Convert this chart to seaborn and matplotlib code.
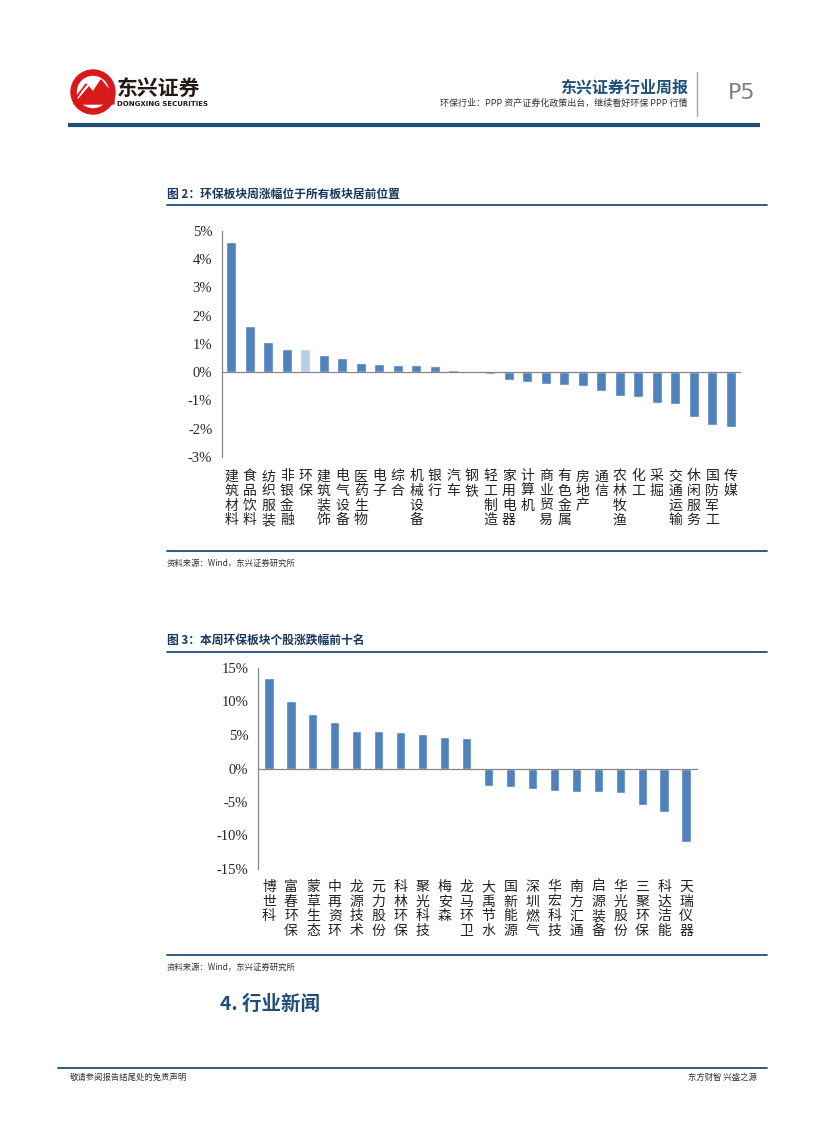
import numpy as np
import matplotlib
matplotlib.use("Agg")
import matplotlib.pyplot as plt
import seaborn as sns
from matplotlib.patches import Circle, Polygon
from matplotlib.ticker import FuncFormatter

# ------------------------------
# DATA
# ------------------------------

sectors = ["建筑材料", "食品饮料", "纺织服装", "非银金融", "环保", "建筑装饰", "电气设备",
           "医药生物", "电子", "综合", "机械设备", "银行", "汽车", "钢铁", "轻工制造",
           "家用电器", "计算机", "商业贸易", "有色金属", "房地产", "通信", "农林牧渔",
           "化工", "采掘", "交通运输", "休闲服务", "国防军工", "传媒"]
sector_change = [4.62, 1.65, 1.06, 0.82, 0.82, 0.61, 0.51, 0.33, 0.29, 0.25, 0.25, 0.21,
                 0.08, 0.0, -0.07, -0.26, -0.34, -0.40, -0.45, -0.48, -0.66, -0.84,
                 -0.87, -1.09, -1.13, -1.58, -1.88, -1.94]

stocks = ["博世科", "富春环保", "蒙草生态", "中再资环", "龙源技术", "元力股份", "科林环保",
          "聚光科技", "梅安森", "龙马环卫", "大禹节水", "国新能源", "深圳燃气", "华宏科技",
          "南方汇通", "启源装备", "华光股份", "三聚环保", "科达洁能", "天瑞仪器"]
stock_change = [13.5, 10.1, 8.2, 7.0, 5.65, 5.65, 5.45, 5.15, 4.7, 4.5,
                -2.57, -2.72, -3.02, -3.42, -3.51, -3.51, -3.66, -5.5, -6.53, -11.0]

sector_ticks = [5, 4, 3, 2, 1, 0, -1, -2, -3]
stock_ticks = [15, 10, 5, 0, -5, -10, -15]

# ------------------------------
# STYLE
# ------------------------------

sns.set_style("white")
plt.rcParams["font.family"] = ["Noto Sans CJK SC", "DejaVu Sans"]

BAR = "#4F81BD"
LIGHT = "#B9CDE5"
AXIS = "#868686"
NAVY = "#1F4E79"
TITLE = "#17375E"
SERIF = ["Liberation Serif", "Noto Sans CJK SC"]

fig = plt.figure(figsize=(8.27, 11.22), dpi=100)

# page layer in pixel coordinates
page = fig.add_axes([0, 0, 1, 1])
page.set_xlim(0, 827)
page.set_ylim(1122, 0)
page.axis("off")


def bar_chart(ax, names, values, colors, ticks, width):
    sns.barplot(x=names, y=values, hue=names, palette=colors, legend=False,
                width=width, ax=ax, saturation=1)
    n = len(names)
    ax.set_xlim(-0.5, n - 0.5)
    ax.set_ylim(min(ticks), max(ticks))
    ax.set_yticks(ticks)
    ax.yaxis.set_major_formatter(FuncFormatter(lambda v, p: f"{v:.0f}%"))
    for lab in ax.get_yticklabels():
        lab.set_fontfamily(SERIF)
        lab.set_fontsize(10.5)
    ax.set_xticks(np.arange(-0.5, n, 1))
    ax.set_xticklabels([])
    ax.tick_params(axis="x", direction="out", length=4, color=AXIS, width=0.8)
    ax.tick_params(axis="y", direction="out", length=4, color=AXIS, width=0.8, pad=3)
    ax.spines["top"].set_visible(False)
    ax.spines["right"].set_visible(False)
    ax.spines["bottom"].set_position(("data", 0))
    for s in ("left", "bottom"):
        ax.spines[s].set_color(AXIS)
        ax.spines[s].set_linewidth(0.9)
    ax.set_xlabel("")
    ax.set_ylabel("")
    for i, name in enumerate(names):
        ax.text(i, -0.055, "\n".join(name), transform=ax.get_xaxis_transform(),
                ha="center", va="top", fontsize=10, linespacing=1.05, color="#222222")


# ------------------------------
# CHART 1: SECTORS
# ------------------------------

ax1 = fig.add_axes([222 / 827, 1 - 457 / 1122, 518 / 827, 226 / 1122])
colors1 = [LIGHT if s == "环保" else BAR for s in sectors]
bar_chart(ax1, sectors, sector_change, colors1, sector_ticks, 0.55)

# ------------------------------
# CHART 2: STOCKS
# ------------------------------

ax2 = fig.add_axes([258 / 827, 1 - 869 / 1122, 439 / 827, 201 / 1122])
bar_chart(ax2, stocks, stock_change, [BAR] * len(stocks), stock_ticks, 0.42)

# ------------------------------
# PAGE ELEMENTS
# ------------------------------

# header logo
page.add_patch(Circle((93, 92), 22, color="#D7191C"))
page.add_patch(Circle((93, 92), 15.5, color="white"))
page.add_patch(Polygon([(74, 100), (86, 84), (93, 92), (101, 80), (114, 96), (114, 104), (74, 104)],
                       closed=True, color="#D7191C"))
for k in range(3):
    page.plot([78 + k * 2, 88 + k * 2], [98 - k * 3, 86 - k * 3], color="white", lw=1)
page.text(117, 88, "东兴证券", fontsize=15, fontweight="bold", color="#231815", va="center")
page.text(117, 104, "DONGXING SECURITIES", fontsize=5, fontweight="bold", color="#231815",
          va="center", family=["DejaVu Sans"])

page.text(688, 87, "东兴证券行业周报", fontsize=11.5, fontweight="bold", color=NAVY,
          ha="right", va="center")
page.text(688, 103, "环保行业：PPP 资产证券化政策出台，继续看好环保 PPP 行情", fontsize=6.5,
          color="#333333", ha="right", va="center")
page.plot([697, 697], [72, 116], color="#A6A6A6", lw=1)
page.text(742, 93, "P5", fontsize=16, color="#7F7F7F", ha="center", va="center",
          family=["DejaVu Sans"])
page.plot([68, 760], [124.5, 124.5], color=NAVY, lw=3, solid_capstyle="butt")

# chart 1 title and source
page.text(167, 194, "图 2：环保板块周涨幅位于所有板块居前位置", fontsize=8.5, fontweight="bold",
          color=TITLE, va="center")
page.plot([167, 767], [205, 205], color=NAVY, lw=1.3)
page.plot([167, 767], [551, 551], color=NAVY, lw=1.3)
page.text(167, 563, "资料来源：Wind，东兴证券研究所", fontsize=6, style="italic",
          color="#333333", va="center")

# chart 2 title and source
page.text(167, 640, "图 3：本周环保板块个股涨跌幅前十名", fontsize=8.5, fontweight="bold",
          color=TITLE, va="center")
page.plot([167, 767], [652, 652], color=NAVY, lw=1.3)
page.plot([167, 767], [955, 955], color=NAVY, lw=1.3)
page.text(167, 967, "资料来源：Wind，东兴证券研究所", fontsize=6, style="italic",
          color="#333333", va="center")

page.text(220, 1004, "4. 行业新闻", fontsize=14, fontweight="bold", color=NAVY, va="center")

# footer
page.plot([58, 767], [1068, 1068], color=NAVY, lw=1.3)
page.text(70, 1077, "敬请参阅报告结尾处的免责声明", fontsize=6, color="#333333", va="center")
page.text(757, 1077, "东方财智 兴盛之源", fontsize=6, color="#333333", va="center", ha="right")

fig.savefig("out.png", dpi=100)
